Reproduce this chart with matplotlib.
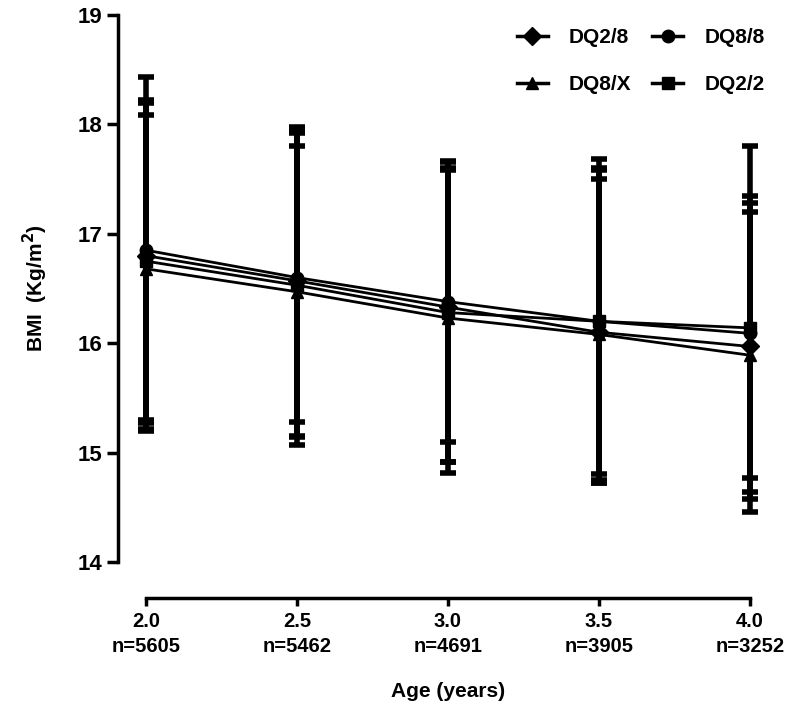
import matplotlib.pyplot as plt
from matplotlib.lines import Line2D

plt.rcParams['font.family'] = ['Liberation Sans', 'DejaVu Sans']
plt.rcParams['font.weight'] = 'bold'

ages = [2.0, 2.5, 3.0, 3.5, 4.0]
counts = [5605, 5462, 4691, 3905, 3252]

# mean BMI per genotype group
dq28_mean = [16.80, 16.57, 16.33, 16.10, 15.97]
dq88_mean = [16.85, 16.60, 16.38, 16.20, 16.09]
dq8x_mean = [16.68, 16.47, 16.23, 16.08, 15.89]
dq22_mean = [16.75, 16.53, 16.28, 16.20, 16.14]

# error bar ends (upper, lower)
dq28_hi = [18.22, 17.95, 17.60, 17.58, 17.28]
dq28_lo = [15.30, 15.15, 14.91, 14.72, 14.64]
dq88_hi = [18.43, 17.98, 17.67, 17.68, 17.80]
dq88_lo = [15.27, 15.28, 15.10, 14.72, 14.46]
dq8x_hi = [18.09, 17.80, 17.58, 17.50, 17.20]
dq8x_lo = [15.20, 15.07, 14.81, 14.80, 14.58]
dq22_hi = [18.20, 17.92, 17.66, 17.60, 17.35]
dq22_lo = [15.22, 15.14, 14.91, 14.75, 14.77]

series = [
    ('DQ2/8', 'D', dq28_mean, dq28_hi, dq28_lo),
    ('DQ8/X', '^', dq8x_mean, dq8x_hi, dq8x_lo),
    ('DQ8/8', 'o', dq88_mean, dq88_hi, dq88_lo),
    ('DQ2/2', 's', dq22_mean, dq22_hi, dq22_lo),
]

fig = plt.figure(figsize=(8, 7.15), dpi=100)
ax = fig.add_axes([146 / 800, 1 - 562 / 715, (750 - 146) / 800, (562 - 15) / 715])

handles = []
for name, mk, mean, hi, lo in series:
    yerr = [[m - l for m, l in zip(mean, lo)], [h - m for m, h in zip(mean, hi)]]
    ax.errorbar(ages, mean, yerr=yerr, color='black', marker=mk, markersize=9,
                linewidth=2, elinewidth=4, capsize=5.5, capthick=4, clip_on=False)
    handles.append(Line2D([], [], color='black', marker=mk, markersize=9,
                          linewidth=2.5, label=name))

ax.set_xlim(2.0, 4.0)
ax.set_ylim(14, 19)
ax.set_xticks(ages)
ax.set_xticklabels([f'{a:.1f}' for a in ages])
ax.set_yticks([14, 15, 16, 17, 18, 19])
ax.tick_params(axis='y', labelsize=16, width=2.5, length=8)
ax.tick_params(axis='x', labelsize=14.5, width=2.5, length=6, pad=4)
for lab in ax.get_yticklabels() + ax.get_xticklabels():
    lab.set_fontweight('bold')

# sample size row under the age ticks
for a, n in zip(ages, counts):
    ax.annotate(f'n={n}', xy=(a, 0), xycoords=('data', 'axes fraction'),
                xytext=(0, -61), textcoords='offset points',
                ha='center', va='center', fontsize=14.5, fontweight='bold')

ax.spines['top'].set_visible(False)
ax.spines['right'].set_visible(False)
ax.spines['left'].set_linewidth(2.5)
ax.spines['bottom'].set_linewidth(2.5)
ax.spines['left'].set_position(('outward', 20))
ax.spines['bottom'].set_position(('outward', 26))

ax.set_ylabel('BMI  (Kg/m$^\\mathbf{2}$)', fontsize=15, fontweight='bold', labelpad=20)
ax.set_xlabel('Age (years)', fontsize=15, fontweight='bold', labelpad=37)

ax.legend(handles=handles, ncol=2, frameon=False, loc='upper right',
          bbox_to_anchor=(1.055, 1.01), handlelength=1.5, handletextpad=1.0,
          columnspacing=1.0, labelspacing=1.35,
          prop={'weight': 'bold', 'size': 15})

fig.savefig('out.png', dpi=100)
